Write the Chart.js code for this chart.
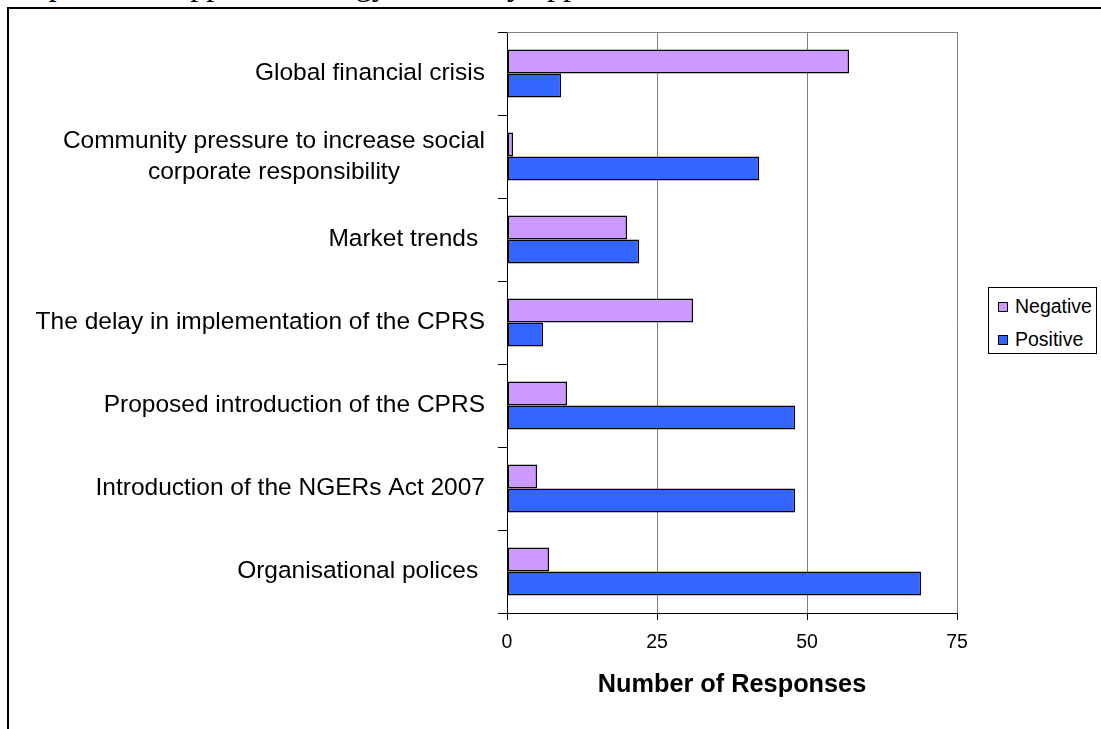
<!DOCTYPE html>
<html>
<head>
<meta charset="utf-8">
<script src="https://cdn.jsdelivr.net/npm/chart.js@4/dist/chart.umd.min.js"></script>
<style>
    html, body { margin: 0; padding: 0; background: #fff; overflow: hidden; }
    #wrap { position: relative; width: 1101px; height: 729px; overflow: hidden; }
    #doc-line {
        position: absolute; left: 8px; top: -32px;
        font: 32px "Liberation Serif", "Times New Roman", serif;
        line-height: 32px; white-space: nowrap; color: #000;
    }
    #frame {
        position: absolute; left: 7px; top: 7px; right: -20px; bottom: -20px;
        border: 2px solid #000;
    }
    #chart-box { position: absolute; left: 0; top: 0; width: 1101px; height: 729px; }
    #legend {
        position: absolute; left: 988px; top: 287px; width: 107px; height: 65px;
        border: 1px solid #000; background: #fff;
        font: 19.5px "Liberation Sans", Arial, sans-serif; color: #000;
    }
    #legend .item { position: absolute; left: 9px; height: 24px; line-height: 24px; white-space: nowrap; }
    #legend .sw {
        display: inline-block; width: 8px; height: 8px; border: 1px solid #000;
        margin-right: 7px; vertical-align: 1px;
    }
</style>
</head>
<body>
<div id="wrap">
    <div id="doc-line">corporations approach energy efficiency opportunities</div>
    <div id="frame"></div>
    <div id="chart-box"><canvas id="chart"></canvas></div>
    <div id="legend"></div>
</div>
<script>
// datos
const categories = [
    'Global financial crisis',
    ['Community pressure to increase social', 'corporate responsibility'],
    'Market trends ',
    'The delay in implementation of the CPRS',
    'Proposed introduction of the CPRS',
    'Introduction of the NGERs Act 2007',
    'Organisational polices '
];
const negativeValues = [57, 1, 20, 31, 10, 5, 7];
const positiveValues = [9, 42, 22, 6, 48, 48, 69];
const seriesNames = ['Negative', 'Positive'];
const seriesColors = ['#CC99FF', '#3366FF'];
const xTicks = [0, 25, 50, 75];
const axisTitle = 'Number of Responses';

const LABEL_FONT = '24.5px "Liberation Sans", Arial, sans-serif';

// etiquetas de categoria: bloque alineado a la derecha, lineas centradas
const categoryLabels = {
    id: 'categoryLabels',
    afterDraw(chart) {
        const ctx = chart.ctx;
        const yScale = chart.scales.y;
        ctx.save();
        ctx.font = LABEL_FONT;
        ctx.fillStyle = '#000';
        ctx.textAlign = 'center';
        ctx.textBaseline = 'middle';
        categories.forEach((lab, i) => {
            const lines = Array.isArray(lab) ? lab : [lab];
            const w = Math.max(...lines.map(l => ctx.measureText(l).width));
            const cx = yScale.right - 22 - w / 2;
            const cy = yScale.getPixelForValue(i);
            lines.forEach((l, k) => {
                ctx.fillText(l, cx, cy + (k - (lines.length - 1) / 2) * 31);
            });
        });
        ctx.restore();
    }
};

// borde superior gris del area de trazado
const plotTopBorder = {
    id: 'plotTopBorder',
    beforeDatasetsDraw(chart) {
        const { ctx, chartArea } = chart;
        ctx.save();
        ctx.strokeStyle = '#808080';
        ctx.lineWidth = 1;
        ctx.beginPath();
        ctx.moveTo(chartArea.left, chartArea.top + 0.5);
        ctx.lineTo(chartArea.right, chartArea.top + 0.5);
        ctx.stroke();
        ctx.restore();
    }
};

const ctx = document.getElementById('chart').getContext('2d');
new Chart(ctx, {
    type: 'bar',
    data: {
        labels: categories,
        datasets: [
            {
                label: seriesNames[0],
                data: negativeValues,
                backgroundColor: seriesColors[0],
                borderColor: '#000',
                borderWidth: 1.5,
                borderSkipped: false
            },
            {
                label: seriesNames[1],
                data: positiveValues,
                backgroundColor: seriesColors[1],
                borderColor: '#000',
                borderWidth: 1.5,
                borderSkipped: false
            }
        ]
    },
    options: {
        indexAxis: 'y',
        responsive: true,
        maintainAspectRatio: false,
        animation: false,
        layout: { padding: { top: 32, right: 144, left: 0, bottom: 0 } },
        datasets: { bar: { barPercentage: 1, categoryPercentage: 0.58 } },
        plugins: {
            legend: { display: false },
            tooltip: { enabled: false }
        },
        scales: {
            x: {
                min: 0,
                max: 75,
                afterBuildTicks: scale => { scale.ticks = xTicks.map(v => ({ value: v })); },
                afterFit: scale => { scale.height = 116; },
                grid: { color: '#808080', lineWidth: 1, tickColor: '#000', tickLength: 7 },
                border: { color: '#000', width: 1 },
                ticks: {
                    padding: 11,
                    color: '#000',
                    font: { family: '"Liberation Sans", Arial, sans-serif', size: 19.5 }
                },
                title: {
                    display: true,
                    text: axisTitle,
                    color: '#000',
                    padding: { top: 4, bottom: 29 },
                    font: { family: '"Liberation Sans", Arial, sans-serif', size: 25.3, weight: 'bold' }
                }
            },
            y: {
                afterFit: scale => { scale.width = 507; },
                grid: { drawOnChartArea: false, drawTicks: true, tickLength: 9, color: '#000', tickColor: '#000' },
                border: { color: '#000', width: 1 },
                ticks: { display: false }
            }
        }
    },
    plugins: [plotTopBorder, categoryLabels]
});

// leyenda
const legend = document.getElementById('legend');
seriesNames.forEach((name, i) => {
    const item = document.createElement('div');
    item.className = 'item';
    item.style.top = (6 + i * 33) + 'px';
    item.innerHTML = `<span class="sw" style="background:${seriesColors[i]}"></span>${name}`;
    legend.appendChild(item);
});
</script>
</body>
</html>
